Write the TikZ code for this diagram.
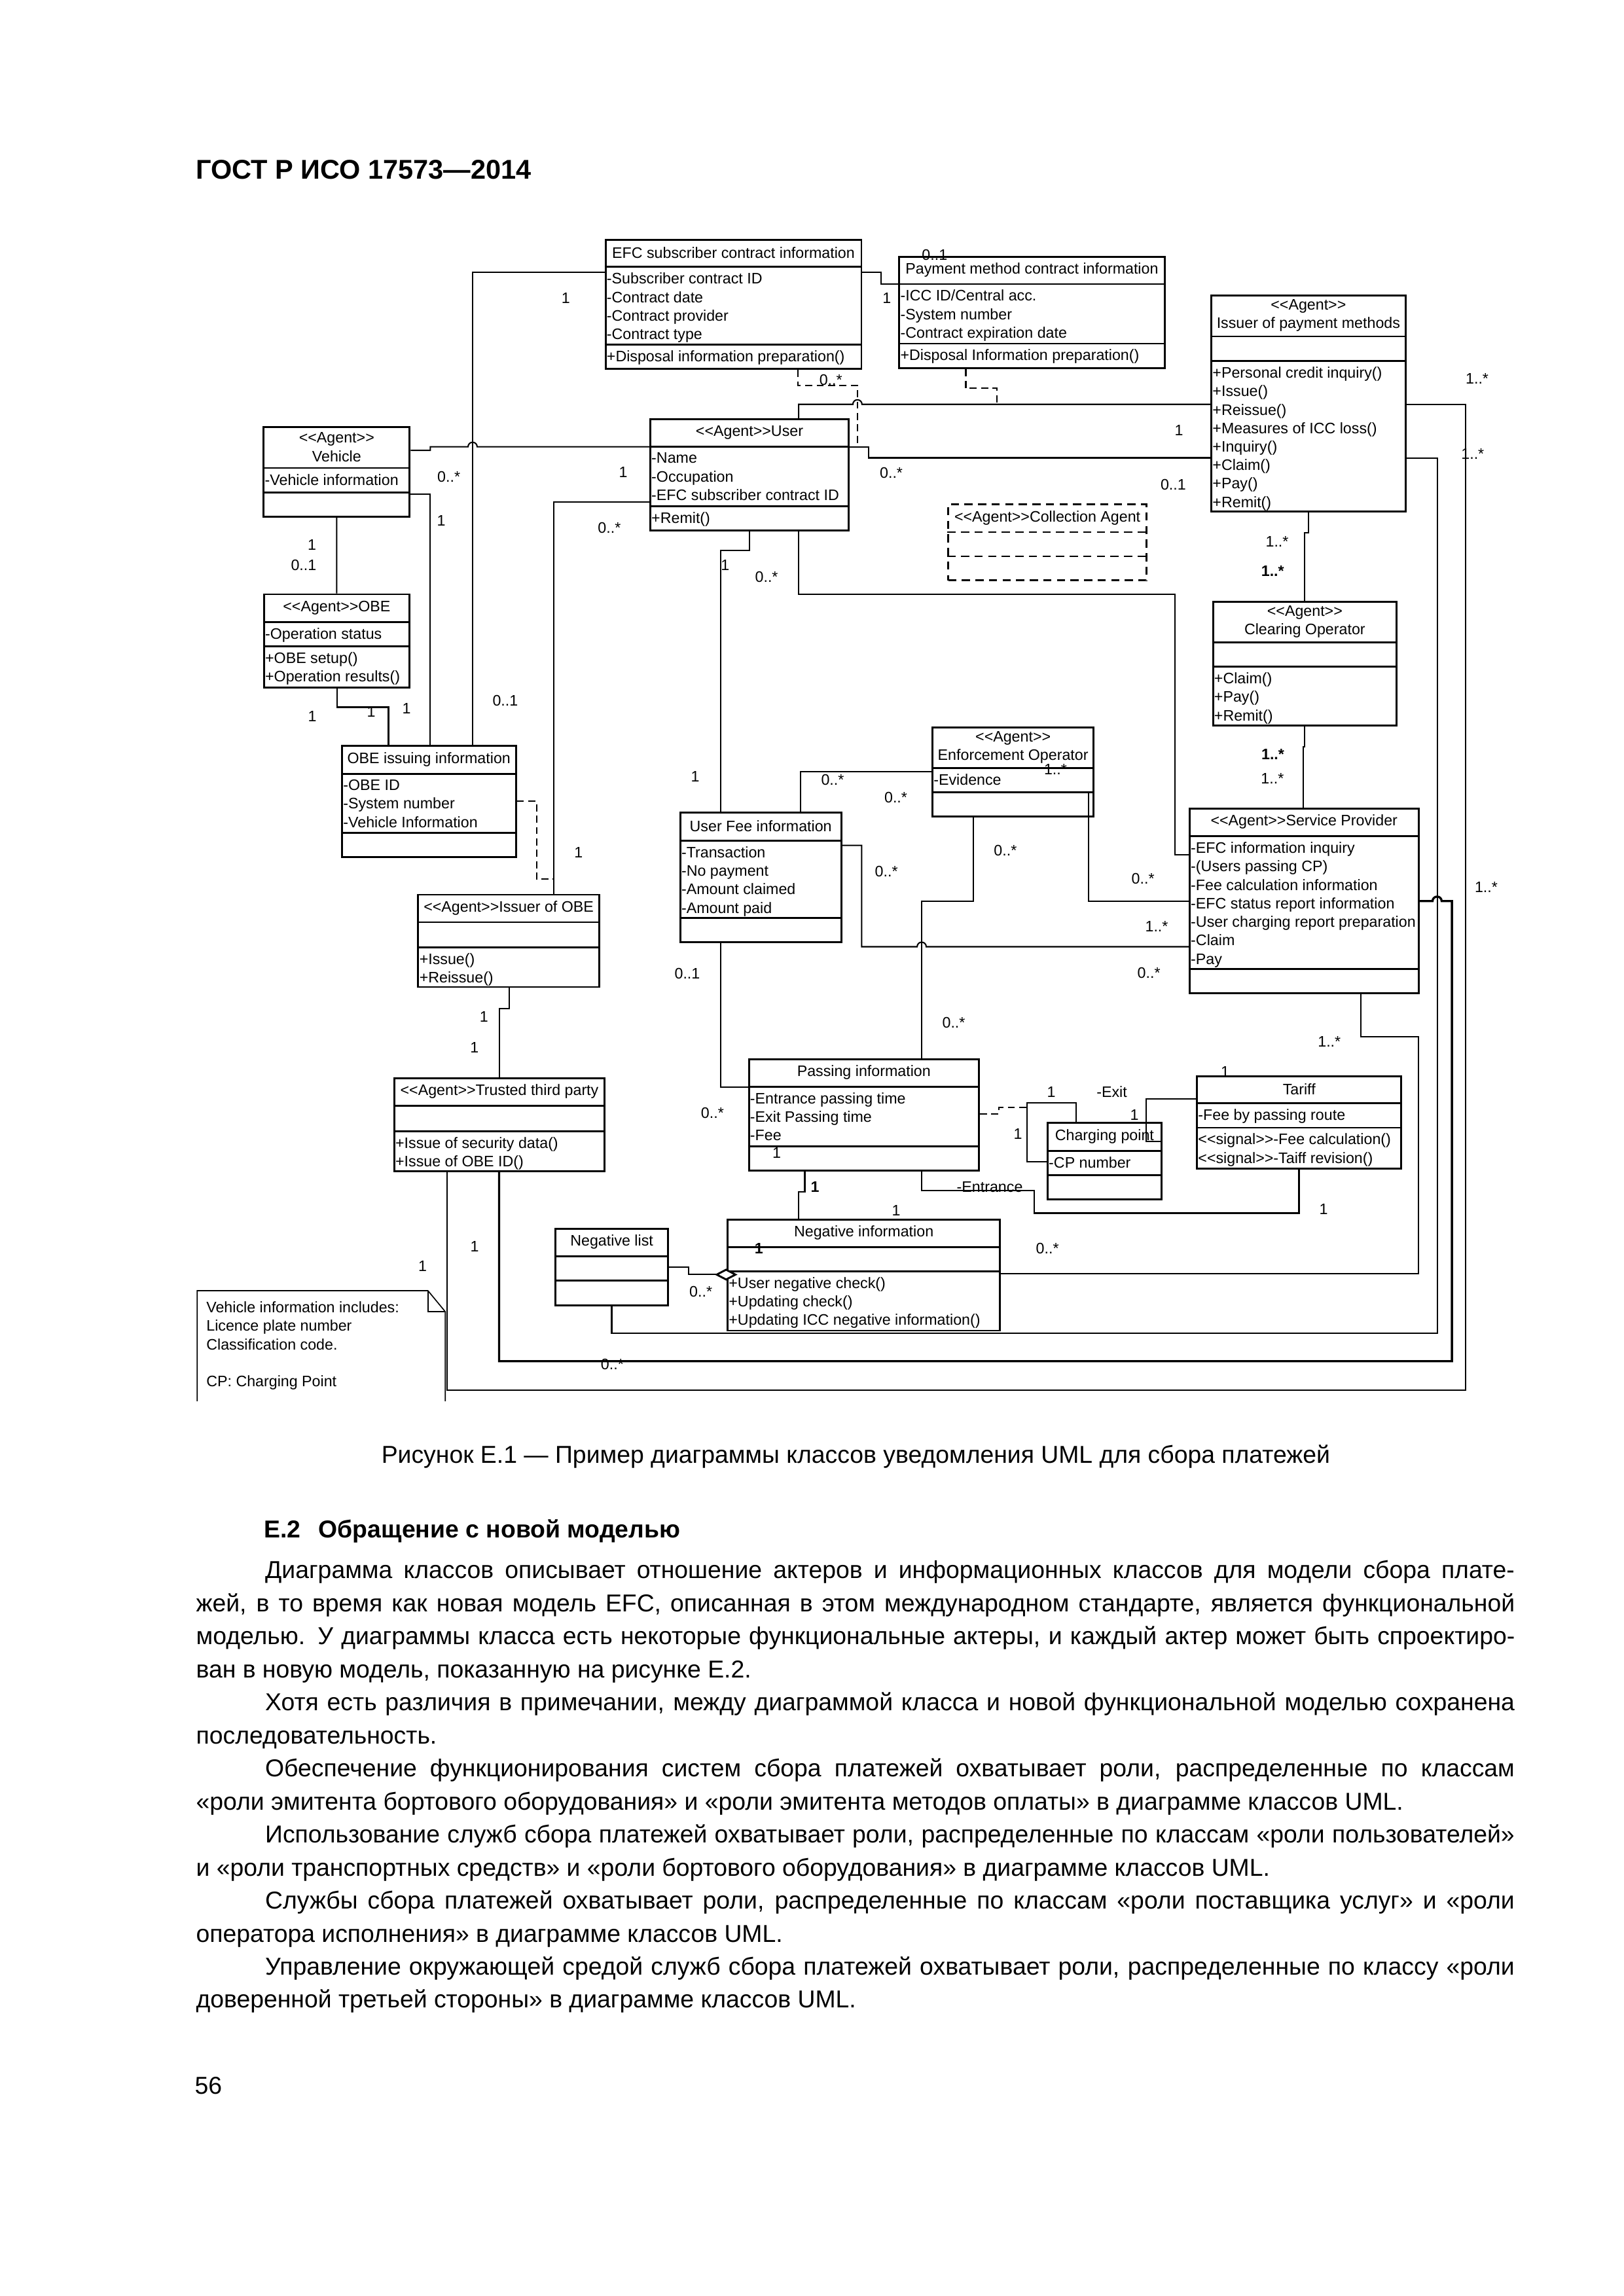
\documentclass[tikz,border=0pt]{standalone}
\usepackage{fontspec}
\setmainfont{Liberation Sans}
\newfontfamily\umlfont{Liberation Sans}[Ligatures=TeXOff]
\usetikzlibrary{fit,calc,arrows.meta}

% class box: [style]{name}{nw corner}{se corner}{1st rule y}{2nd rule y}{title}{attributes}{operations}
\newcommand{\umlclass}[9][]{%
  \coordinate (#2-nw) at (#3);
  \coordinate (#2-se) at (#4);
  \node[classbox,#1,fit=(#2-nw)(#2-se)] (#2) {};
  \draw[classbox,#1] (#2.west |- 0,#5) -- (#2.east |- 0,#5);
  \draw[classbox,#1] (#2.west |- 0,#6) -- (#2.east |- 0,#6);
  \node[classtitle] (#2-title) at ($(#2.north)!0.5!(#2.north |- 0,#5)$) {#7};
  \node[classtext] (#2-attr) at (#2.west |- 0,#5) {#8};
  \node[classtext] (#2-ops) at (#2.west |- 0,#6) {#9};
}

\begin{document}
\begin{tikzpicture}[x=0.0190217cm, y=-0.0190217cm,
    classbox/.style={draw, line width=0.7pt, inner sep=0pt},
    classtitle/.style={font=\umlfont\fontsize{5.6}{6.8}\selectfont, align=center, inner sep=0pt},
    classtext/.style={font=\umlfont\fontsize{5.6}{6.8}\selectfont, align=left, anchor=north west, inner xsep=0.6pt, inner ysep=2pt},
    assoc/.style={line width=0.5pt},
    thickassoc/.style={line width=0.8pt},
    assocdash/.style={line width=0.5pt, dash pattern=on 2.6pt off 1.6pt},
    mult/.style={font=\umlfont\fontsize{5.6}{6.8}\selectfont, inner sep=0pt},
    notebox/.style={line width=0.4pt},
    bodytext/.style={font=\fontsize{9}{10.8}\selectfont, anchor=base west, inner sep=0pt}]
    \fill[white] (0,0) rectangle (1104,1561.6);
    \path[use as bounding box] (0,0) rectangle (1104,1561.6);

    % page head
    \node[anchor=base west, inner sep=0pt, font=\fontsize{10}{12}\selectfont\bfseries] (head) at (133,121.6) {ГОСТ Р ИСО 17573—2014};

    % classes
    \umlclass{efc}{411.8,163.1}{585.8,251}{181.6}{234.3}{EFC subscriber contract information}
      {-Subscriber contract ID\\-Contract date\\-Contract provider\\-Contract type}{+Disposal information preparation()}
    \umlclass{pmc}{611.5,174.7}{792,250.6}{193.2}{233.7}{Payment method contract information}
      {-ICC ID/Central acc.\\-System number\\-Contract expiration date}{+Disposal Information preparation()}
    \umlclass{ipm}{823.8,201.1}{955.8,348}{228.8}{245.6}{<<Agent>>\\Issuer of payment methods}{}
      {+Personal credit inquiry()\\+Issue()\\+Reissue()\\+Measures of ICC loss()\\+Inquiry()\\+Claim()\\+Pay()\\+Remit()}
    \umlclass{veh}{179.3,290.6}{278.6,351.5}{318.3}{335}{<<Agent>>\\Vehicle}{-Vehicle information}{}
    \umlclass{user}{442.2,285}{577.2,360.9}{303.9}{344.2}{<<Agent>>User}
      {-Name\\-Occupation\\-EFC subscriber contract ID}{+Remit()}
    \umlclass{obe}{179.5,404.2}{278.5,467.5}{423.1}{439.6}{<<Agent>>OBE}{-Operation status}{+OBE setup()\\+Operation results()}
    \umlclass[dash pattern=on 3pt off 2pt, line width=0.6pt]{coll}{644.9,343}{779.7,394.7}{361.9}{378.4}{<<Agent>>Collection Agent}{}{}
    \umlclass{clear}{824.9,409.2}{949.8,493.6}{437}{453.5}{<<Agent>>\\Clearing Operator}{}{+Claim()\\+Pay()\\+Remit()}
    \umlclass{obeinfo}{232.6,507.4}{350.8,583}{526.3}{566.6}{OBE issuing information}
      {-OBE ID\\-System number\\-Vehicle Information}{}
    \umlclass{iobe}{284.4,608.5}{407.5,671.3}{627.2}{644.3}{<<Agent>>Issuer of OBE}{}{+Issue()\\+Reissue()}
    \umlclass{ttp}{268.1,733.5}{411.2,796.7}{752.1}{769.4}{<<Agent>>Trusted third party}{}
      {+Issue of security data()\\+Issue of OBE ID()}
    \umlclass{fee}{462.6,552.6}{572.1,640.8}{571.8}{624.4}{User Fee information}
      {-Transaction\\-No payment\\-Amount claimed\\-Amount paid}{}
    \umlclass{enf}{634.1,494.7}{743.8,555.2}{522.3}{538.8}{<<Agent>>\\Enforcement Operator}{-Evidence}{}
    \umlclass{sp}{809,549.9}{964.7,675.7}{568.8}{659.2}{<<Agent>>Service Provider}
      {-EFC information inquiry\\-(Users passing CP)\\-Fee calculation information\\-EFC status report information\\-User charging report preparation\\-Claim\\-Pay}{}
    \umlclass{pass}{509.3,720.5}{665.7,796.1}{739}{779.5}{Passing information}
      {-Entrance passing time\\-Exit Passing time\\-Fee}{}
    \umlclass{cp}{712.4,763.8}{789.9,815.7}{782.7}{799.2}{Charging point}{-CP number}{}
    \umlclass{tariff}{814,732}{953,794.8}{750.5}{767}{Tariff}{-Fee by passing route}
      {<<signal>>-Fee calculation()\\<<signal>>-Taiff revision()}
    \umlclass{neg}{494.8,829.5}{680.1,905}{848.4}{864.7}{Negative information}{}
      {+User negative check()\\+Updating check()\\+Updating ICC negative information()}
    \umlclass{nlist}{377.8,835.6}{454.3,887.8}{854.4}{870.9}{Negative list}{}{}

    % note
    \draw[notebox] (134.1,953) -- (134.1,877.8) -- (291,877.8) -- (302.8,892.1) -- (302.8,953);
    \draw[notebox] (291,877.8) |- (302.8,892.1);
    \node[anchor=north west, inner sep=0pt, align=left, font=\umlfont\fontsize{5.6}{6.8}\selectfont] (notetext) at (140,885)
      {Vehicle information includes:\\Licence plate number\\Classification code.\\[6.8pt]CP: Charging Point};

    % associations
    \draw[assoc] (efc.west |- 0,185.2) -| (obeinfo.north -| 321.4,0);
    \draw[assoc] (efc.east |- 0,185.2) -- (599.3,185.2) |- (pmc.west |- 0,193.2);
    \draw[assocdash] (efc.south -| 542.5,0) |- (583.1,262.1) -- (583.1,303.9);
    \draw[assoc] (user.north -| 543.1,0) |- (580,275) arc[start angle=180, end angle=360, radius=3.1] -- (ipm.west |- 0,275);
    \draw[assocdash] (pmc.south -| 656.8,0) |- (678,264.1) -- (678,275);
    \draw[assoc] (user.east |- 0,303.9) -- (590.8,303.9) |- (ipm.west |- 0,311.4);
    \draw[assoc] (veh.east |- 0,306.3) -- (292.6,306.3) |- (318.3,303.9) arc[start angle=180, end angle=360, radius=3.1] -- (user.west |- 0,303.9);
    \draw[assoc] (veh.east |- 0,336) -| (obeinfo.north -| 292.5,0);
    \draw[assoc] (veh) -- (obe);
    \draw[assoc] (obe.south -| 229.3,0) |- (264.2,481) -- (obeinfo.north -| 264.2,0);
    \draw[assoc] (user.west |- 0,341.6) -| (iobe.north -| 376.6,0);
    \draw[assocdash] (obeinfo.east |- 0,544.9) -- (364.9,544.9) |- (376.6,598);
    \draw[assoc] (iobe.south -| 346.2,0) -- (346.2,685.9) -| (ttp.north -| 339.8,0);
    \draw[assoc] (user.south -| 509.7,0) -- (509.7,374.4) -| (fee.north -| 490.3,0);
    \draw[assoc] (user.south -| 543.1,0) |- (799.1,404.2) |- (sp.west |- 0,581.3);
    \draw[assoc] (ipm.south -| 889.7,0) -- (889.7,362.4) -| (clear.north -| 887.2,0);
    \draw[assoc] (ipm.east |- 0,275) -- (996.6,275) |- (304,945.6) -- (ttp.south -| 304,0);
    \draw[assoc] (ipm.east |- 0,311.8) -- (977.5,311.8) |- (416,906.8) -- (nlist.south -| 416,0);
    \draw[thickassoc] (sp.east |- 0,612.9) -- (974.2,612.9) arc[start angle=180, end angle=360, radius=3.1] -- (987.4,612.9) |- (339.4,925.8) -- (ttp.south -| 339.4,0);
    \draw[assoc] (clear.south -| 887.1,0) -- (887.1,508.1) -| (sp.north -| 886.3,0);
    \draw[assoc] (fee.north -| 544.4,0) |- (enf.west |- 0,525);
    \draw[assoc] (enf.south -| 661.8,0) -- (661.8,613.1) -| (pass.north -| 626.8,0);
    \draw[assoc] (740.2,538.8) -- (enf.south -| 740.2,0) |- (sp.west |- 0,612.9);
    \draw[assoc] (fee.east |- 0,575) -- (586,575) |- (623.7,643.9) arc[start angle=180, end angle=360, radius=3.1] -- (sp.west |- 0,643.9);
    \draw[assoc] (fee.south -| 490.3,0) |- (pass.west |- 0,739.2);
    \draw[assocdash] (pass.east |- 0,757.5) -- (679.4,757.5) |- (698.5,753.2);
    \draw[assoc] (cp.west |- 0,790.2) -- (698.5,790.2) |- (731.8,750) -- (cp.north -| 731.8,0);
    \draw[assoc] (tariff.west |- 0,747.6) -- (779.5,747.6) |- (cp.east |- 0,776.5);
    \draw[assoc] (pass.south -| 626.8,0) |- (703.2,809.7) |- (883.4,825.1) -- (tariff.south -| 883.4,0);
    \draw[assoc] (pass.south -| 547.3,0) -- (547.3,810.6) -| (neg.north -| 542.9,0);
    \draw[assoc] (neg.east |- 0,866.3) -- (964.8,866.3) |- (925.3,705.3) -- (sp.south -| 925.3,0);
    \draw[assoc, -{Diamond[fill=white, line width=0.7pt, length=8.4pt, width=4.4pt]}, shorten >=-4pt]
      (nlist.east |- 0,861.8) -- (468.2,861.8) |- (neg.west |- 0,866.9);

    % multiplicities and role names
    \foreach \p/\t [count=\i] in {
      (384.8,202.9)/1, (343.6,476.4)/0..1, (603.1,202.9)/1, (635.6,173.5)/0..1,
      (565,258.2)/0..*, (801.8,292.5)/1, (606.1,321.8)/0..*, (797.9,329.7)/0..1,
      (305.2,324.3)/0..*, (423.8,321.4)/1, (300.1,353.9)/1, (276.5,482)/1,
      (212.1,370.8)/1, (206.5,384.3)/0..1, (212.4,487.3)/1, (252.4,484.1)/1,
      (414.4,358.8)/0..*, (393.4,579.8)/1, (329.1,691.6)/1, (322.7,712.5)/1,
      (493.1,384.3)/1, (472.8,528.1)/1, (521.3,392.2)/0..*,
      (868.5,368.5)/1..*, (865.5,388.3)/\textbf{1..*},
      (1004.5,257.6)/1..*, (1001.5,308.8)/1..*, (1010.7,603.6)/1..*,
      (287.4,861)/1, (322.8,847.6)/1, (416.4,927.8)/0..*,
      (865.6,513.1)/\textbf{1..*}, (865.3,529.6)/1..*,
      (566.2,530.6)/0..*, (609.2,542.4)/0..*, (683.7,578.6)/0..*, (648.6,695.7)/0..*,
      (717.8,523.2)/1..*, (777.3,597.6)/0..*, (602.8,592.7)/0..*, (786.6,629.9)/1..*,
      (781.3,661.8)/0..*, (467.4,662.3)/0..1, (484.5,757.1)/0..*,
      (715,742.6)/1, (756.1,742.6)/-Exit, (692.2,771.4)/1, (771.5,758.5)/1, (833.1,728.9)/1,
      (673.1,807.5)/-Entrance, (900.1,822.4)/1, (528.2,784.1)/1,
      (554.2,807.2)/\textbf{1}, (609.4,823.1)/1, (516.1,849)/\textbf{1},
      (712.3,849.3)/0..*, (904,708.4)/1..*, (476.6,878.6)/0..*
    }{
      \node[mult] (m\i) at \p {\t};
    }

    % caption and text
    \node[anchor=base, inner sep=0pt, font=\fontsize{9}{10.8}\selectfont] (caption) at (582,995)
      {Рисунок Е.1 — Пример диаграммы классов уведомления UML для сбора платежей};
    \node[bodytext, font=\fontsize{9}{10.8}\selectfont\bfseries] (heading) at (179.3,1046)
      {Е.2\hspace{0.45em} Обращение с новой моделью};
    \node[bodytext] (l1) at (180,1073.6) {\makebox[460pt][s]{Диаграмма классов описывает отношение актеров и информационных классов для модели сбора плате-}};
    \node[bodytext] (l2) at (133,1096.1) {\makebox[485.5pt][s]{жей, в то время как новая модель EFC, описанная в этом международном стандарте, является функциональной}};
    \node[bodytext] (l3) at (133,1118.5) {\makebox[485.5pt][s]{моделью. У диаграммы класса есть некоторые функциональные актеры, и каждый актер может быть спроектиро-}};
    \node[bodytext] (l4) at (133,1141) {ван в новую модель, показанную на рисунке Е.2.};
    \node[bodytext] (l5) at (180,1163.5) {\makebox[460pt][s]{Хотя есть различия в примечании, между диаграммой класса и новой функциональной моделью сохранена}};
    \node[bodytext] (l6) at (133,1185.9) {последовательность.};
    \node[bodytext] (l7) at (180,1208.4) {\makebox[460pt][s]{Обеспечение функционирования систем сбора платежей охватывает роли, распределенные по классам}};
    \node[bodytext] (l8) at (133,1230.9) {«роли эмитента бортового оборудования» и «роли эмитента методов оплаты» в диаграмме классов UML.};
    \node[bodytext] (l9) at (180,1253.4) {\makebox[460pt][s]{Использование служб сбора платежей охватывает роли, распределенные по классам «роли пользователей»}};
    \node[bodytext] (l10) at (133,1275.8) {и «роли транспортных средств» и «роли бортового оборудования» в диаграмме классов UML.};
    \node[bodytext] (l11) at (180,1298.3) {\makebox[460pt][s]{Службы сбора платежей охватывает роли, распределенные по классам «роли поставщика услуг» и «роли}};
    \node[bodytext] (l12) at (133,1320.8) {оператора исполнения» в диаграмме классов UML.};
    \node[bodytext] (l13) at (180,1343.2) {\makebox[460pt][s]{Управление окружающей средой служб сбора платежей охватывает роли, распределенные по классу «роли}};
    \node[bodytext] (l14) at (133,1365.7) {доверенной третьей стороны» в диаграмме классов UML.};
    \node[bodytext] (pagenum) at (132.1,1424.2) {56};
\end{tikzpicture}
\end{document}
